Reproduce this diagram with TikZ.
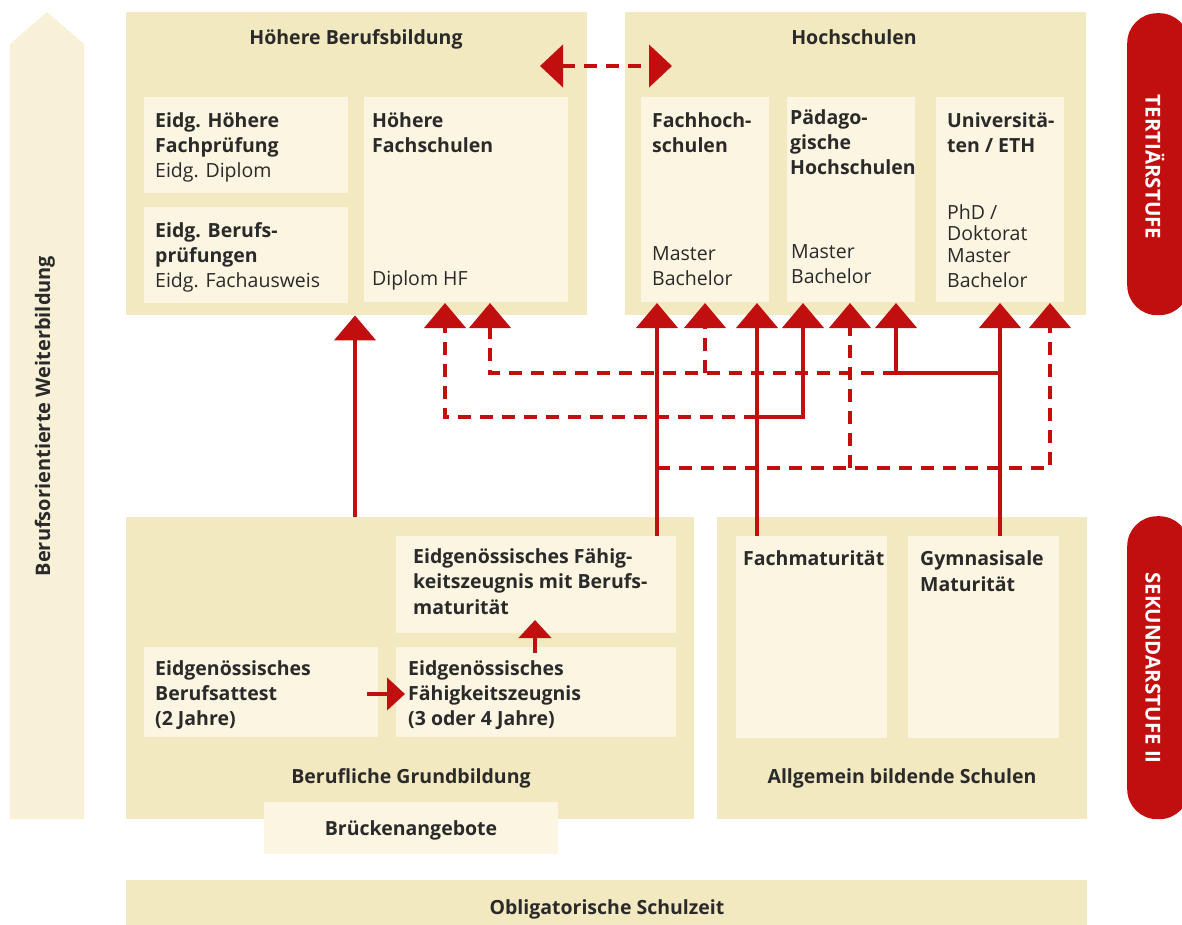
\documentclass[tikz,border=0pt]{standalone}
\usepackage{fontspec}
\setmainfont{Open Sans}
\usetikzlibrary{arrows.meta,calc}
\definecolor{outerc}{HTML}{F3E9C1}
\definecolor{innerc}{HTML}{FBF5E1}
\definecolor{arrowc}{HTML}{F8F1D7}
\definecolor{redc}{HTML}{C10E0E}
\definecolor{ink}{HTML}{2A2A2A}
\begin{document}
\begin{tikzpicture}[x=1pt,y=-1pt,
  obox/.style={fill=outerc, draw=none, inner sep=0pt, anchor=north west},
  ibox/.style={fill=innerc, draw=none, inner sep=0pt, anchor=north west},
  tx/.style={text=ink, font=\fontsize{19.5}{25}\selectfont, align=left, inner sep=0pt, anchor=north west},
  ttl/.style={text=ink, font=\fontsize{19.5}{25}\selectfont\bfseries, inner sep=0pt, anchor=base},
  pill/.style={fill=redc, draw=none, rounded corners=30pt, anchor=north west, inner sep=0pt, minimum width=62pt},
  pilltxt/.style={text=white, font=\fontsize{20.5}{22}\selectfont\bfseries, rotate=-90, inner sep=0pt},
  sline/.style={draw=redc, line width=4.5pt},
  dline/.style={sline, dash pattern=on 13pt off 9pt},
  bigtip/.style={-{Triangle[width=41pt,length=25pt]}},
  smalltip/.style={-{Triangle[width=32pt,length=18pt]}},
]
\useasboundingbox (0,0) rectangle (1182,925);

% left arrow
\fill[arrowc] (10,819) -- (10,44) -- (47,12) -- (84,44) -- (84,819) -- cycle;
\node[text=ink, font=\fontsize{20}{22}\selectfont\bfseries, rotate=90, inner sep=0pt] (weiter) at (45,416) {Berufsorientierte Weiterbildung};

% tertiary boxes
\node[obox, minimum width=461pt, minimum height=303pt] (hbb) at (126,12) {};
\node[obox, minimum width=461pt, minimum height=303pt] (hs) at (625,12) {};
\node[ibox, minimum width=204pt, minimum height=96pt] (ehf) at (144,97) {};
\node[ibox, minimum width=204pt, minimum height=96pt] (ebp) at (144,207) {};
\node[ibox, minimum width=204pt, minimum height=205pt] (hf) at (364,97) {};
\node[ibox, minimum width=128pt, minimum height=205pt] (fh) at (641,97) {};
\node[ibox, minimum width=128pt, minimum height=205pt] (ph) at (787,97) {};
\node[ibox, minimum width=128pt, minimum height=205pt] (uni) at (936,97) {};

\node[ttl] (thbb) at (356,45) {Höhere Berufsbildung};
\node[ttl] (ths) at (854,45) {Hochschulen};
\node[tx] (tehf) at (155,109.5) {\strut\textbf{Eidg. Höhere}\\\textbf{Fachprüfung}\\Eidg. Diplom};
\node[tx] (tebp) at (155,219.5) {\strut\textbf{Eidg. Berufs-}\\\textbf{prüfungen}\\Eidg. Fachausweis};
\node[tx] (thf) at (372,109.5) {\strut\textbf{Höhere}\\\textbf{Fachschulen}};
\node[tx] (thf2) at (372,267.5) {\strut Diplom HF};
\node[tx] (tfh) at (652,109.5) {\strut\textbf{Fachhoch-}\\\textbf{schulen}};
\node[tx] (tfh2) at (652,242.5) {\strut Master\\Bachelor};
\node[tx] (tph) at (790,106.5) {\strut\textbf{Pädago-}\\\textbf{gische}\\\textbf{Hochschulen}};
\node[tx] (tph2) at (791,240.5) {\strut Master\\Bachelor};
\node[tx] (tuni) at (947,109.5) {\strut\textbf{Universitä-}\\\textbf{ten / ETH}};
\node[tx, font=\fontsize{19.5}{18.5}\selectfont] (tuni2) at (947,204) {\strut PhD /\\Doktorat};
\node[tx] (tuni3) at (947,244.5) {\strut Master\\Bachelor};

% secondary boxes
\node[obox, minimum width=568pt, minimum height=302pt] (bg) at (126,517) {};
\node[obox, minimum width=370pt, minimum height=302pt] (abs) at (717,517) {};
\node[ibox, minimum width=280pt, minimum height=97pt] (efzbm) at (396,536) {};
\node[ibox, minimum width=234pt, minimum height=90pt] (eba) at (144,647) {};
\node[ibox, minimum width=280pt, minimum height=90pt] (efz) at (396,647) {};
\node[ibox, minimum width=151pt, minimum height=202pt] (fm) at (736,536) {};
\node[ibox, minimum width=151pt, minimum height=202pt] (gm) at (908,536) {};
\node[ibox, minimum width=294pt, minimum height=52pt] (brueck) at (264,802) {};
\node[obox, minimum width=961pt, minimum height=50pt] (obl) at (126,880) {};

\node[tx, font=\fontsize{19.5}{25.5}\selectfont\bfseries] (tefzbm) at (413,545.2) {\strut Eidgenössisches Fähig-\\keitszeugnis mit Berufs-\\maturität};
\node[tx, font=\fontsize{19.5}{25}\selectfont\bfseries] (teba) at (155,657.5) {\strut Eidgenössisches\\Berufsattest\\(2 Jahre)};
\node[tx, font=\fontsize{19.5}{25}\selectfont\bfseries] (tefz) at (408,657.5) {\strut Eidgenössisches\\Fähigkeitszeugnis\\(3 oder 4 Jahre)};
\node[tx, font=\fontsize{19.5}{26}\selectfont\bfseries] (tfm) at (743,546.8) {\strut Fachmaturität};
\node[tx, font=\fontsize{19.5}{26}\selectfont\bfseries] (tgm) at (920,546.8) {\strut Gymnasisale\\Maturität};
\node[ttl] (tbg) at (411,783) {Berufliche Grundbildung};
\node[ttl] (tabs) at (902,783) {Allgemein bildende Schulen};
\node[ttl] (tbrueck) at (411,835) {Brückenangebote};
\node[ttl] (tobl) at (607,914) {Obligatorische Schulzeit};

% pills
\node[pill, minimum height=302pt] (tert) at (1127,13) {};
\node[pill, minimum height=303pt] (sek) at (1127,516) {};
\node[pilltxt] (ttert) at (1155,167) {TERTIÄRSTUFE};
\node[pilltxt] (tsek) at (1153,668) {SEKUNDARSTUFE II};

% lanes
\coordinate (x0) at (355,0);
\coordinate (xA) at (445,0);
\coordinate (xB) at (490,0);
\coordinate (xC) at (657,0);
\coordinate (xD) at (705,0);
\coordinate (xE) at (757,0);
\coordinate (xF) at (803,0);
\coordinate (xG) at (850,0);
\coordinate (xH) at (896,0);
\coordinate (xI) at (1000,0);
\coordinate (xJ) at (1050,0);
\coordinate (ya) at (0,373);
\coordinate (yb) at (0,417);
\coordinate (yc) at (0,468);
\coordinate (tip) at (0,303);

% dashed connectors
\draw[dline, bigtip] (xE |- yb) -- (xA |- yb) -- (xA |- tip);
\draw[dline, bigtip] (xH |- ya) -- (xB |- ya) -- (xB |- tip);
\draw[dline, bigtip] (xD |- ya) -- (xD |- tip);
\draw[dline, bigtip] (xC |- yc) -- (xJ |- yc) -- (xJ |- tip);
\draw[dline, bigtip] (xG |- yc) -- (xG |- tip);

% solid connectors
\draw[sline, bigtip] (x0 |- bg.north) -- (x0 |- hbb.south);
\draw[sline, bigtip] (xC |- efzbm.north) -- (xC |- tip);
\draw[sline, bigtip] (xE |- fm.north) -- (xE |- tip);
\draw[sline, bigtip] (xI |- gm.north) -- (xI |- tip);
\draw[sline, bigtip] (xE |- yb) -- (xF |- yb) -- (xF |- tip);
\draw[sline, bigtip] (xI |- ya) -- (xH |- ya) -- (xH |- tip);

% top double arrow
\coordinate (dl) at (540,66);
\coordinate (dr) at (672,66);
\draw[dline, {Triangle[width=42pt,length=23pt]}-{Triangle[width=42pt,length=23pt]}] (dl) -- (dr);

% small arrows
\coordinate (ua1) at (535,653);
\coordinate (ua2) at (535,620);
\coordinate (ra1) at (367,694);
\coordinate (ra2) at (405,694);
\draw[sline, smalltip] (ua1) -- (ua2);
\draw[sline, smalltip] (ra1) -- (ra2);
\end{tikzpicture}
\end{document}
